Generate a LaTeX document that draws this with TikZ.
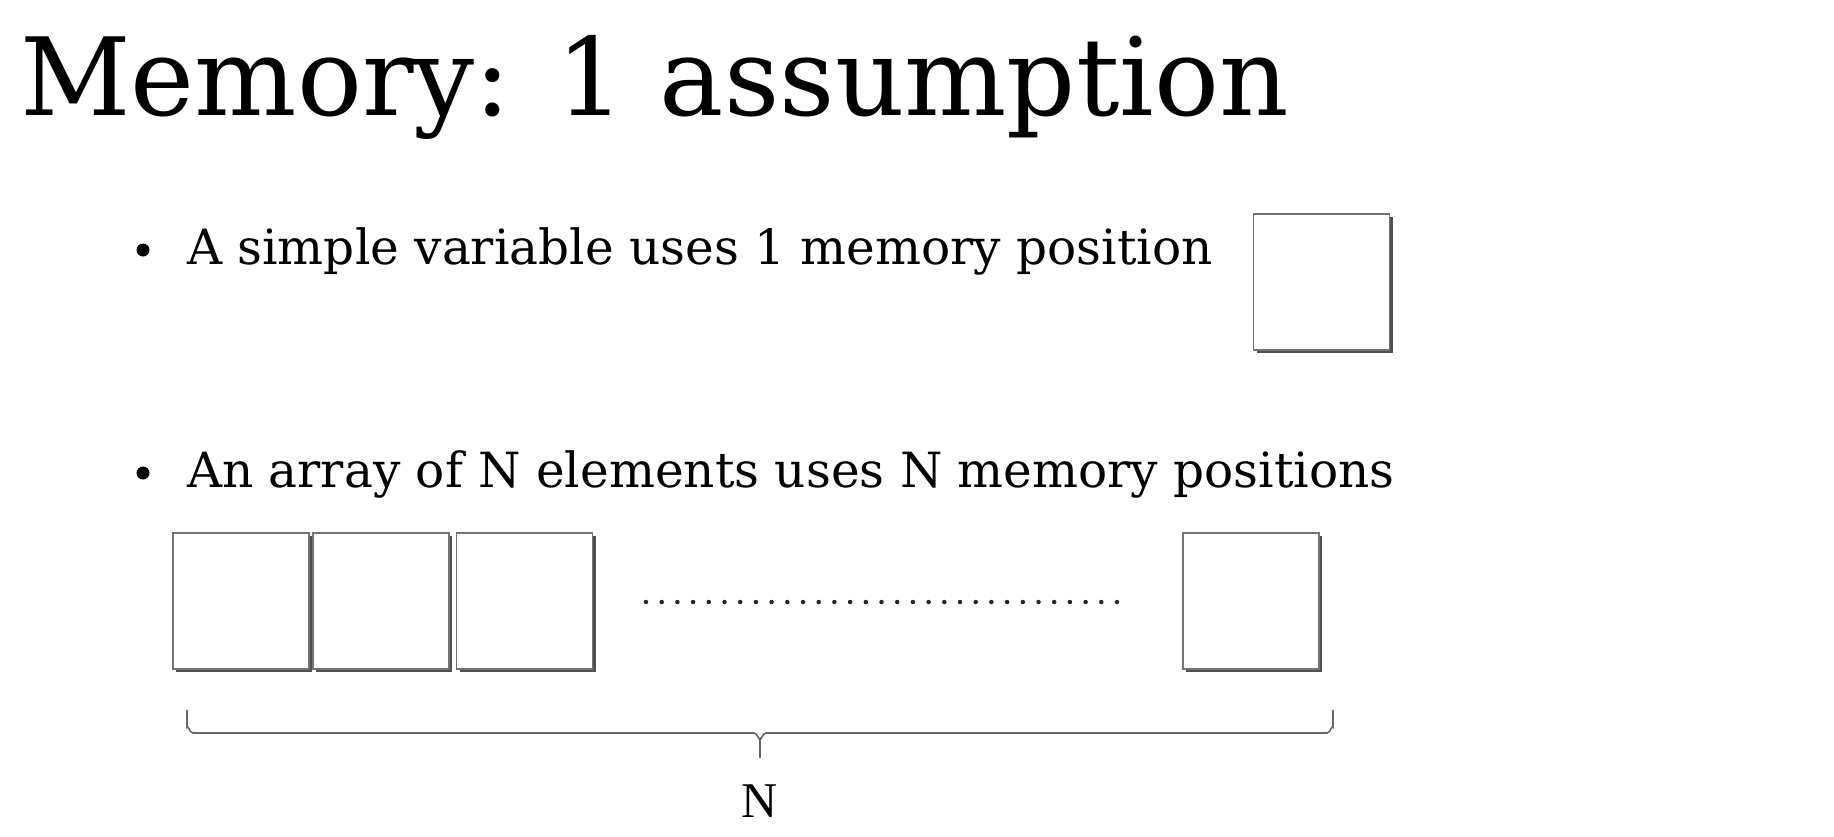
\documentclass[tikz,border=0pt]{standalone}
\usepackage{fontspec}
\setmainfont{DejaVu Serif}
\newfontfamily\labelfont{Liberation Serif}
\usetikzlibrary{shadows,calc}
\tikzset{
    cell/.style = {draw=black!55, line width=1.3pt, fill=white,
        minimum size=136pt, inner sep=0pt,
        drop shadow={shadow xshift=3pt, shadow yshift=-3pt,
            fill=black!80, opacity=0.85}},
    bullet/.style = {circle, fill=black, inner sep=0pt, minimum size=13pt},
    heading/.style = {anchor=base west, inner sep=0pt,
        font=\fontsize{108}{108}\selectfont},
    item/.style = {anchor=base west, inner sep=0pt,
        font=\fontsize{48.5}{48.5}\selectfont},
    bracket/.style = {draw=black!60, line width=1.6pt},
    dots/.style = {draw=black!85, line width=4.5pt, line cap=round,
        dash pattern=on 0pt off 15.7pt}
}
\begin{document}
\begin{tikzpicture}[x=1pt,y=-1pt]
    \useasboundingbox (0,0) rectangle (1834,836);
    \node [heading] (title) at (20,115) {Memory: 1 assumption};
    % first item
    \node [bullet] (b1) at (143,250) {};
    \node [item] (t1) at (187,264) {A simple variable uses 1 memory position};
    \node [cell] (var) at (1321.5,282) {};
    % second item
    \node [bullet] (b2) at (143,473) {};
    \node [item] (t2) at (187,487) {An array of N elements uses N memory positions};
    \node [cell] (c1) at (241,601) {};
    \node [cell] (c2) at (381,601) {};
    \node [cell] (c3) at (524.5,601) {};
    \node [cell] (cn) at (1251,601) {};
    \coordinate (d1) at (646,602);
    \coordinate (d2) at (1118,602);
    \draw [dots] (d1) -- (d2);
    % brace under the array
    \coordinate (bl) at (187,710);
    \coordinate (br) at (1333,710);
    \coordinate (bm) at (760,758);
    \draw [bracket] (bl) -- ++(0,17) to[out=90,in=180] ++(6,6)
        -- ($(bm)+(-6,-25)$) to[out=0,in=-90] ($(bm)+(0,-19)$) -- (bm);
    \draw [bracket] (br) -- ++(0,17) to[out=90,in=0] ++(-6,6)
        -- ($(bm)+(6,-25)$) to[out=180,in=-90] ($(bm)+(0,-19)$);
    \node [anchor=base, inner sep=0pt, font=\labelfont\fontsize{50}{50}\selectfont]
        (n) at (760,817) {N};
\end{tikzpicture}
\end{document}
